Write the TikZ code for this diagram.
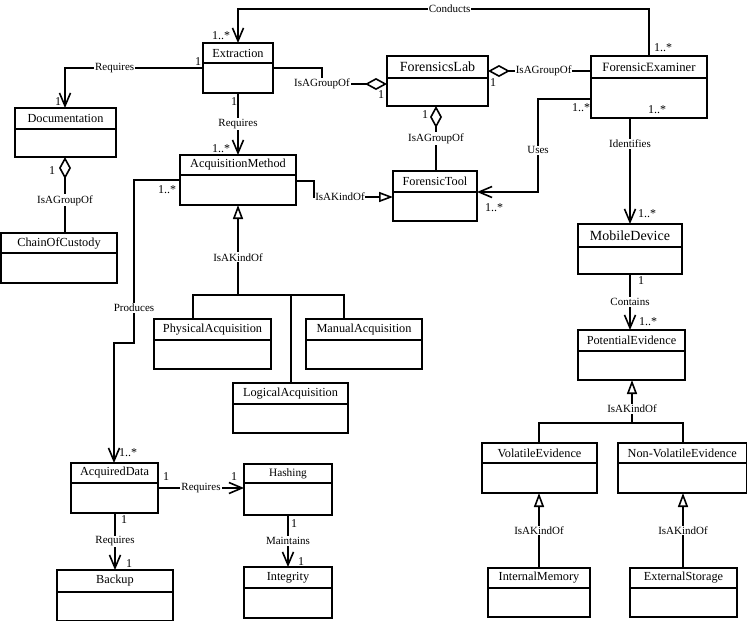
\documentclass[tikz,border=0pt]{standalone}
\usepackage{fontspec}
\setmainfont{Liberation Serif}
\usetikzlibrary{fit,arrows.meta}
\newcommand\fcls{\fontsize{12.3pt}{14pt}\selectfont}
\newcommand\fbig{\fontsize{14pt}{16pt}\selectfont}
\newcommand\fmid{\fontsize{12.7pt}{15pt}\selectfont}
\newcommand\fsmall{\fontsize{11.3pt}{13pt}\selectfont}
\newcommand\flbl{\fontsize{11pt}{13pt}\selectfont}
\newcommand\fmult{\fontsize{12pt}{14pt}\selectfont}
\tikzset{
  clsbox/.style={draw, line width=1.7pt, inner sep=0pt, outer sep=0pt},
  hdline/.style={line width=1.7pt},
  conn/.style={line width=1.6pt},
  assocto/.style={conn, -{Straight Barb[length=13pt,width=11pt]}},
  aggr/.style={conn, -{Diamond[length=22pt,width=12pt,fill=white]}},
  genl/.style={conn, -{Triangle[length=14pt,width=10pt,fill=white]}},
  lbl/.style={fill=white, inner sep=1pt, font=\flbl},
  mult/.style={inner sep=0pt, font=\fmult},
}
% name, x1, y1, x2, y2, header y, text, font
\newcommand\umlclass[8]{%
  \node[clsbox, fit={(#2,#3) (#4,#5)}] (#1) {};
  \draw[hdline] (#1.west |- 0,#6) -- (#1.east |- 0,#6);
  \node[inner sep=0pt, font=#8] at ({(#2+#4)/2},{(#3+#6)/2}) {#7};
}
\begin{document}
\begin{tikzpicture}[x=1pt,y=-1pt]
\useasboundingbox[fill=white] (0,0) rectangle (748,622);

\umlclass{ext}{203}{43}{273}{93}{63}{Extraction}{\fcls}
\umlclass{doc}{15}{108}{116}{157}{129}{Documentation}{\fcls}
\umlclass{coc}{1}{233}{117}{283}{253}{ChainOfCustody}{\fcls}
\umlclass{lab}{387}{56}{488}{106}{78}{ForensicsLab}{\fbig}
\umlclass{exam}{591}{56}{707}{118}{78}{ForensicExaminer}{\fmid}
\umlclass{acq}{180}{155}{296}{205}{175}{AcquisitionMethod}{\fcls}
\umlclass{tool}{393}{171}{477}{221}{192}{ForensicTool}{\fcls}
\umlclass{mob}{578}{224}{682}{274}{247}{MobileDevice}{\fbig}
\umlclass{pot}{578}{330}{685}{380}{351}{PotentialEvidence}{\fcls}
\umlclass{vol}{482}{443}{597}{493}{463}{VolatileEvidence}{\fcls}
\umlclass{nvol}{618}{443}{746.5}{493}{463}{Non-VolatileEvidence}{\fcls}
\umlclass{imem}{488}{568}{590}{617}{588}{InternalMemory}{\fcls}
\umlclass{exst}{630}{568}{737}{617}{588}{ExternalStorage}{\fcls}
\umlclass{phys}{154}{319}{271}{369}{340}{PhysicalAcquisition}{\fcls}
\umlclass{man}{306}{319}{422}{369}{340}{ManualAcquisition}{\fcls}
\umlclass{log}{233}{383}{348}{433}{404}{LogicalAcquisition}{\fcls}
\umlclass{adata}{71}{463}{158}{513}{483}{AcquiredData}{\fcls}
\umlclass{hash}{244}{464}{332}{515}{483}{Hashing}{\fsmall}
\umlclass{backup}{57}{570}{173}{620.5}{592}{Backup}{\fcls}
\umlclass{integ}{244}{567}{332}{618}{588}{Integrity}{\fcls}

% Conducts
\draw[assocto] (exam.north -| 649,0) -- (649,9) -- node[lbl,pos=0.485]{Conducts} (238,9) -- (ext.north -| 238,0);
\node[mult] at (221,36) {1..*};
\node[mult] at (663,48) {1..*};

% Extraction -> Documentation
\draw[assocto] (ext.west |- 0,68) -- node[lbl,pos=0.64]{Requires} (65,68) -- (doc.north -| 65,0);
\node[mult] at (198,62) {1};
\node[mult] at (58,102) {1};

% Extraction -> AcquisitionMethod
\draw[assocto] (ext.south -| 238,0) -- node[lbl]{Requires} (acq.north -| 238,0);
\node[mult] at (234,102) {1};
\node[mult] at (221,149) {1..*};

% Extraction - ForensicsLab
\draw[aggr] (ext.east |- 0,68) -- (322,68) -- (322,84) node[lbl]{IsAGroupOf} -- (lab.west |- 0,84);
\node[mult] at (381,95) {1};

% ForensicExaminer - ForensicsLab
\draw[aggr] (exam.west |- 0,71) -- node[lbl,pos=0.46]{IsAGroupOf} (lab.east |- 0,71);
\node[mult] at (493,83) {1};

% ForensicTool - ForensicsLab
\draw[aggr] (tool.north -| 436,0) -- node[lbl]{IsAGroupOf} (lab.south -| 436,0);
\node[mult] at (425,115) {1};

% Uses
\draw[assocto] (exam.west |- 0,99) -- (538,99) -- node[lbl,pos=0.55]{Uses} (538,192) -- (tool.east |- 0,192);
\node[mult] at (581,108) {1..*};
\node[mult] at (494,208) {1..*};

% Identifies
\draw[assocto] (exam.south -| 630,0) -- node[lbl,pos=0.245]{Identifies} (mob.north -| 630,0);
\node[mult] at (657,110) {1..*};
\node[mult] at (647,214) {1..*};

% Contains
\draw[assocto] (mob.south -| 630,0) -- node[lbl]{Contains} (pot.north -| 630,0);
\node[mult] at (641,281) {1};
\node[mult] at (648,322) {1..*};

% PotentialEvidence generalization
\coordinate (j1) at (632,423);
\draw[conn] (vol.north -| 539,0) -- (539,423) -- (683,423) -- (nvol.north -| 683,0);
\draw[genl] (j1) -- node[lbl,pos=0.33]{IsAKindOf} (pot.south -| j1);
\draw[genl] (imem.north -| 539,0) -- node[lbl]{IsAKindOf} (vol.south -| 539,0);
\draw[genl] (exst.north -| 683,0) -- node[lbl]{IsAKindOf} (nvol.south -| 683,0);

% AcquisitionMethod generalization
\coordinate (j2) at (238,295);
\draw[conn] (phys.north -| 193,0) -- (193,295) -- (344,295) -- (man.north -| 344,0);
\draw[conn] (291,295) -- (log.north -| 291,0);
\draw[genl] (j2) -- node[lbl,pos=0.42]{IsAKindOf} (acq.south -| j2);

% AcquisitionMethod -> ForensicTool
\draw[genl] (acq.east |- 0,181) -- (314,181) -- (314,197) node[lbl,anchor=west,inner sep=0.5pt]{IsAKindOf} -- (tool.west |- 0,197);

% Produces
\draw[assocto] (acq.west |- 0,180) -- (134,180) -- node[lbl,pos=0.785]{Produces} (134,343) -- (114,343) -- (adata.north -| 114,0);
\node[mult] at (167,190) {1..*};
\node[mult] at (128,453) {1..*};

% AcquiredData -> Hashing
\draw[assocto] (adata.east |- 0,488) -- node[lbl]{Requires} (hash.west |- 0,488);
\node[mult] at (166,477) {1};
\node[mult] at (234,477) {1};

% AcquiredData -> Backup
\draw[assocto] (adata.south -| 115,0) -- node[lbl]{Requires} (backup.north -| 115,0);
\node[mult] at (124,520) {1};
\node[mult] at (129,564) {1};

% Hashing -> Integrity
\draw[assocto] (hash.south -| 288,0) -- node[lbl]{Maintains} (integ.north -| 288,0);
\node[mult] at (294,524) {1};
\node[mult] at (301,562) {1};

% ChainOfCustody - Documentation
\draw[aggr] (coc.north -| 65,0) -- node[lbl,pos=0.43]{IsAGroupOf} (doc.south -| 65,0);
\node[mult] at (52,171) {1};
\end{tikzpicture}
\end{document}
